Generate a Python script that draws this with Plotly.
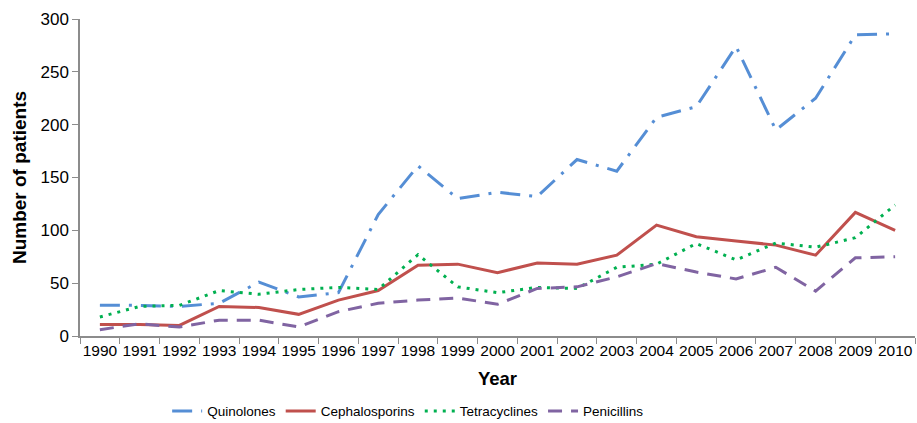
import plotly.graph_objects as go

years = [str(y) for y in range(1990, 2011)]
quinolones = [29, 29, 28, 31, 51, 37, 41, 115, 161, 130, 136, 132, 167, 156, 207, 217, 274, 195, 225, 285, 286]
cephalosporins = [11, 11, 10, 28, 27, 20.5, 34, 43, 67, 68, 60, 69, 68, 76.5, 105, 94, 90, 86, 76.5, 117, 100]
tetracyclines = [18, 28, 29, 43, 39.5, 44, 46, 44, 77, 46.5, 41, 46, 45, 65, 68, 87.5, 72, 88, 84, 93, 124]
penicillins = [6, 11.5, 8.5, 15, 15, 8.5, 23, 31, 34, 36, 30, 45, 46.5, 56, 68.5, 60.5, 54, 65, 42.5, 74, 75]

fig = go.Figure()
fig.add_trace(go.Scatter(x=years, y=quinolones, name="Quinolones", mode="lines",
                         line=dict(color="#558ED5", width=3, dash="20px,9px,3px,9px")))
fig.add_trace(go.Scatter(x=years, y=cephalosporins, name="Cephalosporins", mode="lines",
                         line=dict(color="#C0504D", width=3)))
fig.add_trace(go.Scatter(x=years, y=tetracyclines, name="Tetracyclines", mode="lines",
                         line=dict(color="#00B050", width=3, dash="3px,6px")))
fig.add_trace(go.Scatter(x=years, y=penicillins, name="Penicillins", mode="lines",
                         line=dict(color="#8064A2", width=3, dash="14px,9px")))

font = "Liberation Sans, Arial, sans-serif"
fig.update_layout(
    width=917, height=423,
    margin=dict(l=80, r=2, t=19, b=87),
    paper_bgcolor="white", plot_bgcolor="white",
    font=dict(family=font, size=16, color="black"),
    showlegend=True,
    legend=dict(orientation="h", x=0.393, xanchor="center", xref="paper",
                y=0.028, yanchor="middle", yref="container",
                font=dict(size=13.5), traceorder="normal"),
    xaxis=dict(type="category", range=[-0.5, 20.5], showline=True, linecolor="#8c8c8c", linewidth=1.5,
               ticks="outside", tickson="boundaries", ticklen=6, tickcolor="#8c8c8c",
               showgrid=False, zeroline=False, tickfont=dict(size=15.5), tickangle=0,
               automargin=False,
               title=dict(text="<b>Year</b>", font=dict(size=18.5), standoff=14)),
    yaxis=dict(range=[0, 300], tickvals=[0, 50, 100, 150, 200, 250, 300], showline=True,
               linecolor="#8c8c8c", linewidth=1.5, ticks="outside", ticklen=6, tickcolor="#8c8c8c",
               showgrid=False, zeroline=False, tickfont=dict(size=17), automargin=False,
               title=dict(text="<b>Number of patients</b>", font=dict(size=19), standoff=9)),
)
fig.write_html("out.html", config={"displayModeBar": False},
               post_script="document.body.style.margin='0';document.body.style.padding='0';")
